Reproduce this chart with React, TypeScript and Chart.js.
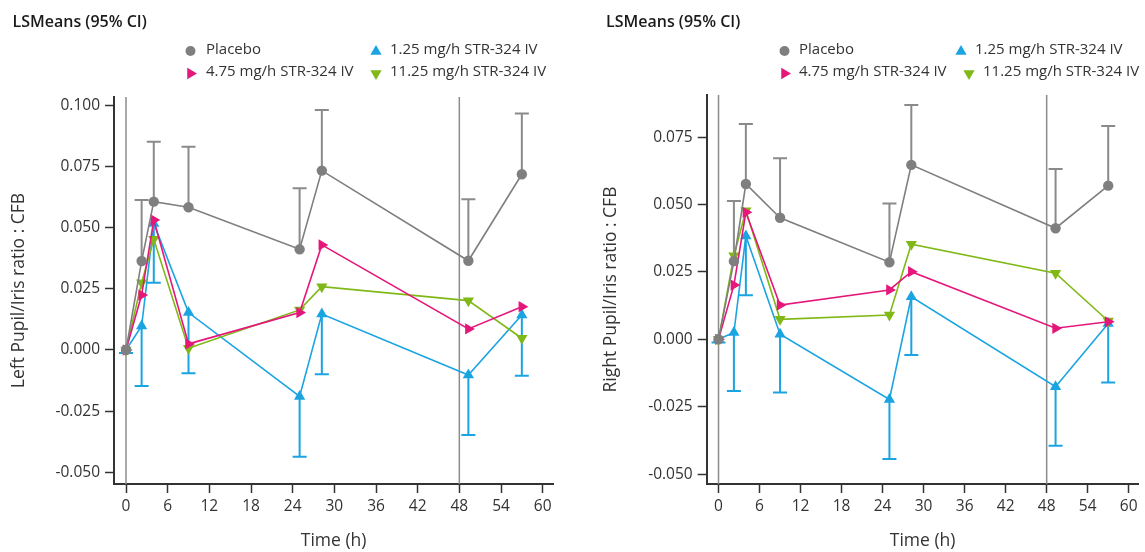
import React, { useEffect, useRef } from "react";
import { Chart, registerables } from "chart.js";
Chart.register(...registerables);

const FONT = "'Open Sans', 'Noto Sans', sans-serif";

// ---------- data ----------
const times = [0, 2.25, 4, 9, 25, 28.2, 49.3, 57];
const xTickStep = 6;
const yTickStep = 0.025;
const referenceTimes = [0, 48];
const chartTitle = "LSMeans (95% CI)";
const xTitle = "Time (h)";
const leftYTitle = "Left Pupil/Iris ratio : CFB";
const rightYTitle = "Right Pupil/Iris ratio : CFB";
const seriesLabels = ["Placebo", "1.25 mg/h STR-324 IV", "4.75 mg/h STR-324 IV", "11.25 mg/h STR-324 IV"];

const leftPlacebo = [0, 0.0364, 0.0607, 0.0584, 0.0412, 0.0734, 0.0365, 0.0719];
const leftPlaceboUpper = [0, 0.0614, 0.0852, 0.0832, 0.0662, 0.0982, 0.0617, 0.0968];
const leftLow = [0, 0.0098, 0.0518, 0.0153, -0.0190, 0.0147, -0.0102, 0.0143];
const leftLowLower = [-0.0012, -0.0147, 0.0275, -0.0095, -0.0437, -0.0099, -0.0348, -0.0105];
const leftMid = [0, 0.0225, 0.0532, 0.0025, 0.0153, 0.043, 0.0086, 0.0177];
const leftHigh = [0, 0.0275, 0.0453, 0.0007, 0.0164, 0.0259, 0.0202, 0.0048];

const rightPlacebo = [0, 0.029, 0.0576, 0.0451, 0.0286, 0.0647, 0.0412, 0.057];
const rightPlaceboUpper = [0, 0.0513, 0.0799, 0.0672, 0.0504, 0.0869, 0.0632, 0.0791];
const rightLow = [0, 0.0025, 0.0383, 0.0019, -0.0223, 0.0158, -0.0176, 0.0059];
const rightLowLower = [-0.0012, -0.0192, 0.0163, -0.0197, -0.0444, -0.0058, -0.0395, -0.016];
const rightMid = [0, 0.0201, 0.0471, 0.0127, 0.0183, 0.0251, 0.0041, 0.0065];
const rightHigh = [0, 0.031, 0.0477, 0.0074, 0.009, 0.0353, 0.0245, 0.0068];

// ---------- styles ----------
const GRAY = "#7f7f7f";
const GRAY_BAR = "#8a8a8a";
const BLUE = "#1ba4e2";
const PINK = "#e5177b";
const GREEN = "#80b917";
const AXIS = "#333333";

type Panel = {
  width: number;
  yTitle: string;
  yMin: number;
  yMax: number;
  xMin: number;
  xMax: number;
  padLeft: number;
  padRight: number;
  padTop: number;
  yWidth: number;
  titleX: number;
  legendCols: number[][]; // [markerX, textX] per item
  placebo: number[];
  placeboUpper: number[];
  low: number[];
  lowLower: number[];
  mid: number[];
  high: number[];
};

function drawMarker(ctx: CanvasRenderingContext2D, style: string, x: number, y: number, r: number, rotDeg: number, color: string) {
  ctx.save();
  ctx.fillStyle = color;
  ctx.beginPath();
  if (style === "circle") {
    ctx.arc(x, y, r, 0, Math.PI * 2);
  } else {
    let rad = (rotDeg * Math.PI) / 180;
    const step = (2 * Math.PI) / 3;
    ctx.moveTo(x + Math.sin(rad) * r, y - Math.cos(rad) * r);
    rad += step;
    ctx.lineTo(x + Math.sin(rad) * r, y - Math.cos(rad) * r);
    rad += step;
    ctx.lineTo(x + Math.sin(rad) * r, y - Math.cos(rad) * r);
    ctx.closePath();
  }
  ctx.fill();
  ctx.restore();
}

function makeChart(canvas: HTMLCanvasElement, p: Panel) {
  const ds = (label: string, data: number[], color: string, style: string, rotation: number, radius: number) => ({
    label,
    data: times.map((t, i) => ({ x: t, y: data[i] })),
    borderColor: color,
    backgroundColor: color,
    pointBackgroundColor: color,
    pointBorderColor: color,
    pointStyle: style,
    pointRotation: rotation,
    pointRadius: radius,
    pointBorderWidth: 0,
    borderWidth: 1.6,
    tension: 0,
  });

  const bars = [
    { center: p.placebo, bound: p.placeboUpper, color: GRAY_BAR },
    { center: p.low, bound: p.lowLower, color: BLUE },
  ];

  const refLines = {
    id: "refLines",
    beforeDatasetsDraw(chart: any) {
      const { ctx, chartArea, scales } = chart;
      ctx.save();
      ctx.strokeStyle = "#8c8c8c";
      ctx.lineWidth = 1.5;
      referenceTimes.forEach((t) => {
        const px = scales.x.getPixelForValue(t);
        ctx.beginPath();
        ctx.moveTo(px, chartArea.top);
        ctx.lineTo(px, chartArea.bottom);
        ctx.stroke();
      });
      ctx.restore();
      // error bars
      bars.forEach((b) => {
        ctx.save();
        ctx.strokeStyle = b.color;
        ctx.lineWidth = 2;
        times.forEach((t, i) => {
          if (b.bound[i] === b.center[i]) return;
          const px = scales.x.getPixelForValue(t);
          const y0 = scales.y.getPixelForValue(b.center[i]);
          const y1 = scales.y.getPixelForValue(b.bound[i]);
          ctx.beginPath();
          ctx.moveTo(px, y0);
          ctx.lineTo(px, y1);
          ctx.moveTo(px - 7, y1);
          ctx.lineTo(px + 7, y1);
          ctx.stroke();
        });
        ctx.restore();
      });
    },
  };

  const header = {
    id: "header",
    afterDraw(chart: any) {
      const ctx = chart.ctx as CanvasRenderingContext2D;
      ctx.save();
      ctx.fillStyle = "#1a1a1a";
      ctx.textBaseline = "middle";
      ctx.textAlign = "left";
      ctx.font = `600 16px ${FONT}`;
      ctx.fillText(chartTitle, p.titleX, 22.5);
      ctx.font = `15px ${FONT}`;
      ctx.fillStyle = "#333333";
      const rows = [50, 72];
      const markers: [string, number, string][] = [
        ["circle", 0, GRAY],
        ["triangle", 0, BLUE],
        ["triangle", 90, PINK],
        ["triangle", 180, GREEN],
      ];
      seriesLabels.forEach((lab, i) => {
        const [mx, tx] = p.legendCols[i];
        const y = rows[i < 2 ? 0 : 1];
        const [st, rot, col] = markers[i];
        drawMarker(ctx, st, mx, y + (st === "circle" ? 1 : 1.5), st === "circle" ? 5 : 6.5, rot, col);
        ctx.fillText(lab, tx, y);
      });
      ctx.restore();
    },
  };

  return new Chart(canvas, {
    type: "line",
    data: {
      datasets: [
        ds(seriesLabels[0], p.placebo, GRAY, "circle", 0, 5.2),
        ds(seriesLabels[2], p.mid, PINK, "triangle", 90, 6.5),
        ds(seriesLabels[3], p.high, GREEN, "triangle", 180, 6.5),
        ds(seriesLabels[1], p.low, BLUE, "triangle", 0, 6.5),
      ],
    },
    options: {
      animation: false,
      responsive: false,
      layout: { padding: { left: p.padLeft, right: p.padRight, top: p.padTop, bottom: 0 } },
      plugins: { legend: { display: false }, tooltip: { enabled: false } },
      scales: {
        x: {
          type: "linear",
          min: p.xMin,
          max: p.xMax,
          afterFit: (s: any) => {
            s.height = 68;
            s.paddingLeft = 0;
            s.paddingRight = 0;
          },
          ticks: {
            stepSize: xTickStep,
            includeBounds: false,
            padding: 4,
            color: "#333333",
            font: { family: FONT, size: 15.5 },
            maxRotation: 0,
            autoSkip: false,
          },
          grid: { display: true, drawOnChartArea: false, drawTicks: true, tickLength: 9, tickWidth: 1.5, tickColor: AXIS },
          border: { display: true, color: AXIS, width: 2 },
          title: { display: true, text: xTitle, color: "#333333", font: { family: FONT, size: 17.5 }, padding: { top: 0, bottom: 0 } },
        },
        y: {
          type: "linear",
          min: p.yMin,
          max: p.yMax,
          afterFit: (s: any) => {
            s.width = p.yWidth;
            s.paddingTop = 0;
            s.paddingBottom = 0;
          },
          ticks: {
            stepSize: yTickStep,
            includeBounds: false,
            padding: 5,
            color: "#333333",
            font: { family: FONT, size: 15.5 },
            callback: (v: any) => (Math.abs(Number(v)) < 1e-9 ? "0.000" : Number(v).toFixed(3)),
          },
          grid: { display: true, drawOnChartArea: false, drawTicks: true, tickLength: 9, tickWidth: 1.5, tickColor: AXIS },
          border: { display: true, color: AXIS, width: 2 },
          title: { display: true, text: p.yTitle, color: "#333333", font: { family: FONT, size: 17.5 }, padding: { top: 0, bottom: 0 } },
        },
      },
    },
    plugins: [refLines, header],
  } as any);
}

const leftPanel: Panel = {
  width: 575,
  yTitle: leftYTitle,
  yMin: -0.05483,
  yMax: 0.10352,
  xMin: -1.728,
  xMax: 61.53,
  padLeft: 9,
  padRight: 21.7,
  padTop: 97,
  yWidth: 105,
  titleX: 12.5,
  legendCols: [
    [190.5, 206],
    [376, 390],
    [190.5, 206],
    [376, 390],
  ],
  placebo: leftPlacebo,
  placeboUpper: leftPlaceboUpper,
  low: leftLow,
  lowLower: leftLowLower,
  mid: leftMid,
  high: leftHigh,
};

const rightPanel: Panel = {
  width: 570,
  yTitle: rightYTitle,
  yMin: -0.05367,
  yMax: 0.09062,
  xMin: -1.729,
  xMax: 61.43,
  padLeft: 25.5,
  padRight: 0,
  padTop: 95,
  yWidth: 106.2,
  titleX: 31,
  legendCols: [
    [209.5, 224],
    [386, 400],
    [209.5, 224],
    [394, 408],
  ],
  placebo: rightPlacebo,
  placeboUpper: rightPlaceboUpper,
  low: rightLow,
  lowLower: rightLowLower,
  mid: rightMid,
  high: rightHigh,
};

function PanelChart({ panel, left }: { panel: Panel; left: number }) {
  const ref = useRef<HTMLCanvasElement | null>(null);
  useEffect(() => {
    if (!ref.current) return;
    const c = makeChart(ref.current, panel);
    return () => c.destroy();
  }, [panel]);
  return (
    <div style={{ position: "absolute", left, top: 0, width: panel.width, height: 552 }}>
      <canvas ref={ref} width={panel.width} height={552} style={{ display: "block", width: panel.width, height: 552 }} />
    </div>
  );
}

export default function App() {
  return (
    <div style={{ position: "absolute", left: 0, top: 0, width: 1145, height: 552, background: "#ffffff", overflow: "hidden" }}>
      <PanelChart panel={leftPanel} left={0} />
      <PanelChart panel={rightPanel} left={575} />
    </div>
  );
}
